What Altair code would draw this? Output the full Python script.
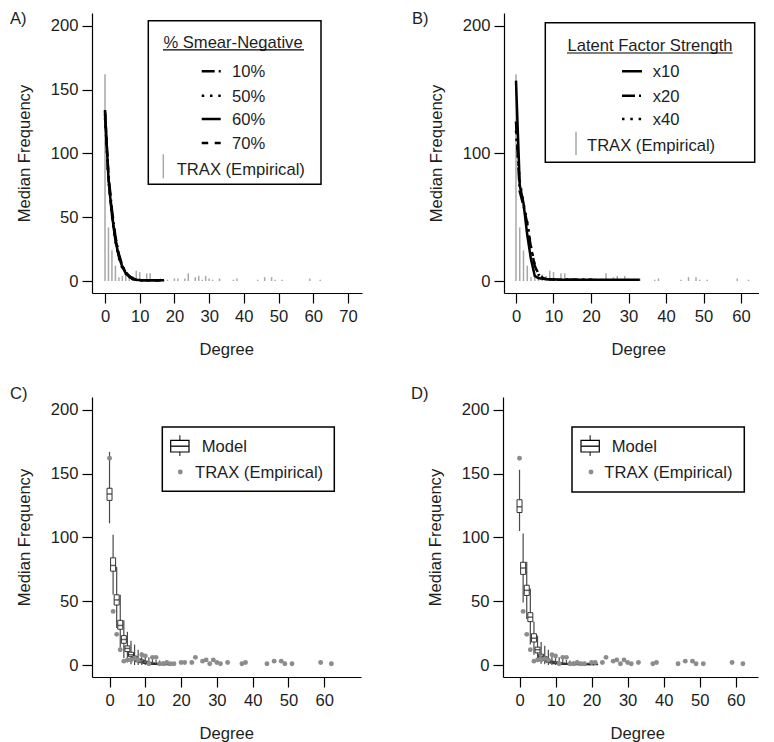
import altair as alt
import pandas as pd

FONT = "Liberation Sans"
FS = 16.6
INK = "#1e1e1e"
GREY_BAR = "#a8a8a8"
GREY_DOT = "#8c8c8c"

# ---------------- data ----------------
# TRAX (empirical) degree distribution
trax_degree = [0, 1, 2, 3, 4, 5, 6, 7, 8, 9, 10, 11, 12, 13, 14, 15, 16, 17, 18, 20,
               21, 23, 24, 26, 27, 28, 29, 30, 31, 33, 37, 38, 44, 46, 48, 49, 51, 59, 62]
trax_freq = [162, 42, 24, 12, 3, 4, 4, 5, 4, 8, 7, 1, 6, 6, 1, 1, 2, 1, 1, 2,
             2, 2, 6, 3, 4, 1, 4, 2, 1, 2, 1, 2, 1, 3, 3, 1, 1, 2, 1]

# Panel A: % smear-negative model curves
a_degree = [0, 1, 2, 3, 4, 5, 6, 7, 8, 9, 10, 11, 12, 13, 14, 15, 16, 17]
a_smear10 = [131, 83, 56, 35, 21, 12, 7, 3.8, 2, 1, 0.7, 0.6, 0.5, 0.5, 0.5, 0.5, 0.5, 0.5]
a_smear50 = [128, 79, 51, 31, 18, 10, 5.5, 3, 1.5, 0.9, 0.6, 0.5, 0.5, 0.5, 0.5, 0.5, 0.5, 0.5]
a_smear60 = [134, 80, 52, 32, 19, 11, 6, 3.2, 1.6, 0.9, 0.7, 0.6, 0.6, 0.6, 0.6, 0.6, 0.6, 0.6]
a_smear70 = [133, 81, 53, 33, 20, 11.5, 6.5, 3.5, 1.8, 1, 0.7, 0.6, 0.6, 0.6, 0.6, 0.6, 0.6, 0.6]
a_series = ["10%", "50%", "60%", "70%"]

# Panel B: latent factor strength model curves
b_x10_degree = [0, 1, 2, 3, 4, 5, 6, 7, 8, 9, 10, 11, 12, 13, 14, 15, 16, 17, 18, 19, 20]
b_x10 = [125, 70, 59, 45, 26, 12, 5, 2.5, 1.6, 1.3, 1.2, 1.1, 1, 1, 1, 1, 1, 1, 1, 1, 1]
b_x20_degree = [0, 1, 2, 3, 4, 5, 6, 7, 8, 9, 10, 11, 12, 13, 14, 15, 16, 17, 18, 19, 20, 21]
b_x20 = [118, 78, 61, 46, 27, 12.5, 5.5, 2.8, 1.8, 1.4, 1.2, 1.1, 1, 1, 1, 1, 1, 1, 1, 1, 1, 1]
b_x40_degree = [0, 1, 2, 3, 4, 5, 6, 7, 8, 9, 10, 11, 12, 13, 14, 15, 16, 17, 18, 19, 20,
                21, 22, 23, 24, 25, 26, 27, 28, 29, 30, 31, 32, 33]
b_x40 = [157, 75, 61, 36, 17, 4, 2.2, 1.8, 1.5, 1.3, 1.2, 1.1, 1, 1, 1, 1, 1, 1, 1, 1, 1,
         1, 1, 1, 1, 1, 1, 1, 1, 1, 1, 1, 1, 1]
b_series = ["x10", "x20", "x40"]

# Panel C: model box plots
c_degree = [0, 1, 2, 3, 4, 5, 6, 7, 8, 9, 10, 11, 12, 13, 14, 15, 16, 17]
c_low = [111, 55, 29, 13.5, 5.5, 2, 0.5, 0, 0, 0, 0, 0, 0, 0, 0, 0, 0, 0]
c_q1 = [129, 73.5, 47, 28, 17, 10.5, 6.5, 4, 2.5, 1.8, 1.2, 0.8, 0.5, 0.4, 0.3, 0.3, 0.2, 0.2]
c_med = [134, 78, 51, 31, 20, 13, 8, 5.5, 4, 3, 2, 1.5, 1, 0.9, 0.8, 0.6, 0.5, 0.5]
c_q3 = [138.5, 84, 55, 35, 23, 15, 10, 7, 5, 4, 3, 2.2, 1.6, 1.4, 1.2, 1, 0.9, 0.8]
c_high = [167, 102, 77, 55, 35, 26, 19, 16, 12, 10, 8, 6, 5, 4, 3.5, 3, 2.5, 2]

# Panel D: model box plots
d_degree = [0, 1, 2, 3, 4, 5, 6, 7, 8, 9, 10, 11, 12, 13, 14, 15, 16, 17, 18, 19, 20, 21]
d_low = [105, 49, 36, 16, 8, 3, 1, 0.5, 0, 0, 0, 0, 0, 0, 0, 0, 0, 0, 0, 0, 0, 0]
d_q1 = [119.5, 71, 54.5, 34, 18, 9.5, 5.5, 3.5, 2.2, 1.5, 1, 0.8, 0.5, 0.4, 0.3, 0.3, 0.2, 0.2, 0.2, 0.2, 0.2, 0.2]
d_med = [124, 76, 58.5, 37.5, 21, 12, 7, 5, 3, 2.2, 1.6, 1.3, 1, 0.9, 0.8, 0.7, 0.6, 0.5, 0.5, 0.5, 0.5, 0.5]
d_q3 = [129.5, 80.5, 62.5, 41, 24.5, 14, 8.5, 6.5, 4, 3, 2.5, 2, 1.5, 1.3, 1.2, 1, 1, 0.9, 0.9, 0.8, 0.8, 0.8]
d_high = [153, 103, 81, 60, 34, 23, 18, 15, 12, 9, 8, 6, 5, 4, 3.5, 3, 3, 2.5, 2.5, 2, 2, 2]

# ---------------- tables ----------------
trax_df = pd.DataFrame({"degree": trax_degree, "freq": trax_freq})
a_df = pd.DataFrame({
    "degree": a_degree * 4,
    "freq": a_smear10 + a_smear50 + a_smear60 + a_smear70,
    "series": [s for s in a_series for _ in a_degree],
})
b_df = pd.DataFrame({
    "degree": b_x10_degree + b_x20_degree + b_x40_degree,
    "freq": b_x10 + b_x20 + b_x40,
    "series": ["x10"] * len(b_x10) + ["x20"] * len(b_x20) + ["x40"] * len(b_x40),
})
c_df = pd.DataFrame({"degree": c_degree, "low": c_low, "q1": c_q1, "med": c_med, "q3": c_q3, "high": c_high})
d_df = pd.DataFrame({"degree": d_degree, "low": d_low, "q1": d_q1, "med": d_med, "q3": d_q3, "high": d_high})
DUMMY = pd.DataFrame({"k": [0]})

DASH_DOTDASH = [13, 4, 2, 4]
DASH_DOT = [2.5, 5.8]
DASH_SOLID = [1, 0]
DASH_DASH = [6.5, 6.5]

Y_SCALE = alt.Scale(domain=[-9.4, 210], nice=False, zero=False)


def x_enc(dom, ticks):
    return alt.X("degree:Q", scale=alt.Scale(domain=dom, nice=False, zero=False),
                 axis=alt.Axis(values=ticks, title="Degree", titleX=134.3, titleY=56,
                               titleBaseline="middle", labelPadding=5, labelFlush=False))


def y_axis(ticks):
    return alt.Axis(values=ticks, title="Median Frequency", titleX=-68,
                    titleBaseline="middle", labelPadding=4)


def txt(s, x, y, align="left", baseline="middle"):
    return alt.Chart(DUMMY).mark_text(text=s, align=align, baseline=baseline, font=FONT,
                                      fontSize=FS, color=INK).encode(x=alt.value(x), y=alt.value(y))


def seg(x1, y1, x2, y2, color="black", width=1.5, dash=None):
    kw = dict(color=color, strokeWidth=width)
    if dash is not None:
        kw["strokeDash"] = dash
    return alt.Chart(DUMMY).mark_rule(**kw).encode(
        x=alt.value(x1), y=alt.value(y1), x2=alt.value(x2), y2=alt.value(y2))


def box(x1, y1, x2, y2, width=1.5):
    return alt.Chart(DUMMY).mark_rect(fill="white", stroke="black", strokeWidth=width).encode(
        x=alt.value(x1), y=alt.value(y1), x2=alt.value(x2), y2=alt.value(y2))


# ---------------- panel A ----------------
xa = x_enc([-3.745, 74.04], [0, 10, 20, 30, 40, 50, 60, 70])
ya_ax = y_axis([0, 50, 100, 150, 200])
a_bars = alt.Chart(trax_df).mark_rule(color=GREY_BAR, strokeWidth=1.5).encode(
    x=xa, y=alt.Y("freq:Q", scale=Y_SCALE, axis=ya_ax), y2=alt.datum(0))
a_lines = alt.Chart(a_df).mark_line(color="black", strokeWidth=2.5).encode(
    x=xa, y=alt.Y("freq:Q", scale=Y_SCALE, axis=ya_ax),
    strokeDash=alt.StrokeDash("series:N", scale=alt.Scale(
        domain=a_series, range=[DASH_DOTDASH, DASH_DOT, DASH_SOLID, DASH_DASH]), legend=None))
a_leg = [
    box(56.3, 7.7, 229, 171.3),
    txt("% Smear-Negative", 141, 29.5, align="center"),
    seg(71, 36.8, 212, 36.8, width=1.2),
]
for lab, dash, yy in zip(a_series, [DASH_DOTDASH, DASH_DOT, DASH_SOLID, DASH_DASH], [59.2, 83.7, 107, 131]):
    a_leg.append(seg(109.7, yy - 1, 128.7, yy - 1, width=2.5, dash=dash))
    a_leg.append(txt(lab, 140, yy))
a_leg.append(seg(71.3, 141.3, 71.3, 165.3, color=GREY_BAR, width=1.5))
a_leg.append(txt("TRAX (Empirical)", 84.7, 156.5))
a_leg.append(txt("A)", -82, -2, baseline="top"))
panelA = alt.layer(a_bars, a_lines, *a_leg).properties(width=270, height=280)

# ---------------- panel B ----------------
xb = x_enc([-3.2, 64.8], [0, 10, 20, 30, 40, 50, 60])
yb_ax = y_axis([0, 100, 200])
b_bars = alt.Chart(trax_df).mark_rule(color=GREY_BAR, strokeWidth=1.5).encode(
    x=xb, y=alt.Y("freq:Q", scale=Y_SCALE, axis=yb_ax), y2=alt.datum(0))
b_lines = alt.Chart(b_df).mark_line(color="black", strokeWidth=2.5).encode(
    x=xb, y=alt.Y("freq:Q", scale=Y_SCALE, axis=yb_ax),
    strokeDash=alt.StrokeDash("series:N", scale=alt.Scale(
        domain=b_series, range=[DASH_SOLID, DASH_DOTDASH, DASH_DOT]), legend=None))
b_leg = [
    box(41.3, 9.7, 250.7, 149.3),
    txt("Latent Factor Strength", 146, 32.8, align="center"),
    seg(63, 40, 228.7, 40, width=1.2),
]
for lab, dash, yy in zip(b_series, [DASH_SOLID, DASH_DOTDASH, DASH_DOT], [59.2, 83.7, 107]):
    b_leg.append(seg(118, yy - 1, 138, yy - 1, width=2.5, dash=dash))
    b_leg.append(txt(lab, 148.7, yy))
b_leg.append(seg(72, 118.7, 72, 142, color=GREY_BAR, width=1.5))
b_leg.append(txt("TRAX (Empirical)", 83, 132.5))
b_leg.append(txt("B)", -92, -2, baseline="top"))
panelB = alt.layer(b_bars, b_lines, *b_leg).properties(width=255, height=280)


# ---------------- panels C and D ----------------
def box_panel(df, xe, yticks, label, leg_box, icon_x, model_x, dot_x, trax_x, width):
    yax = y_axis(yticks)
    whisk = alt.Chart(df).mark_rule(color="#4a4a4a", strokeWidth=1.2).encode(
        x=xe, y=alt.Y("low:Q", scale=Y_SCALE, axis=yax), y2="high:Q")
    boxes = alt.Chart(df).mark_bar(size=5, fill="white", stroke="#333333", strokeWidth=1).encode(
        x=xe, y=alt.Y("q1:Q", scale=Y_SCALE, axis=yax), y2="q3:Q")
    meds = alt.Chart(df).mark_tick(orient="horizontal", size=5, thickness=1.5, color="#222222").encode(
        x=xe, y=alt.Y("med:Q", scale=Y_SCALE, axis=yax))
    dots = alt.Chart(trax_df).mark_circle(size=24, color=GREY_DOT, opacity=1).encode(
        x=xe, y=alt.Y("freq:Q", scale=Y_SCALE, axis=yax))
    x1, x2 = icon_x
    xm = (x1 + x2) / 2
    leg = [
        box(*leg_box),
        seg(xm, 38.3, xm, 59, color="#333333", width=1.2),
        box(x1, 43.3, x2, 55, width=1.2),
        seg(x1, 49.2, x2, 49.2, color="#222222", width=1.5),
        txt("Model", model_x, 50),
        alt.Chart(DUMMY).mark_circle(size=24, color=GREY_DOT, opacity=1).encode(
            x=alt.value(dot_x), y=alt.value(75)),
        txt("TRAX (Empirical)", trax_x, 76),
        txt(label, -82 if label == "C)" else -92, -11, baseline="top"),
    ]
    return alt.layer(whisk, boxes, meds, dots, *leg).properties(width=width, height=280)


xc = x_enc([-3.5, 68.88], [0, 10, 20, 30, 40, 50, 60])
xd = x_enc([-3.2, 64.8], [0, 10, 20, 30, 40, 50, 60])
panelC = box_panel(c_df, xc, [0, 50, 100, 150, 200], "C)", (70.3, 30, 242.3, 94.3),
                   (78.7, 97), 109.7, 88.3, 103, 269)
panelD = box_panel(d_df, xd, [0, 50, 100, 150, 200], "D)", (69, 30, 241.3, 95),
                   (78, 96.3), 108.7, 88, 101.3, 255)

top = alt.hconcat(panelA, panelB, spacing=50)
bottom = alt.hconcat(panelC, panelD, spacing=50)
chart = alt.vconcat(top, bottom, spacing=28).properties(
    padding={"top": 3, "left": 2, "right": 0, "bottom": 0}
).configure(
    font=FONT
).configure_view(
    stroke=None
).configure_axis(
    grid=False, domainColor="black", domainWidth=1.2, tickColor="black", tickWidth=1.2,
    tickSize=10, labelFont=FONT, labelFontSize=FS, labelColor=INK,
    titleFont=FONT, titleFontSize=FS, titleFontWeight="normal", titleColor=INK
)

chart.save("out.html", embed_options={"renderer": "svg", "actions": False})
